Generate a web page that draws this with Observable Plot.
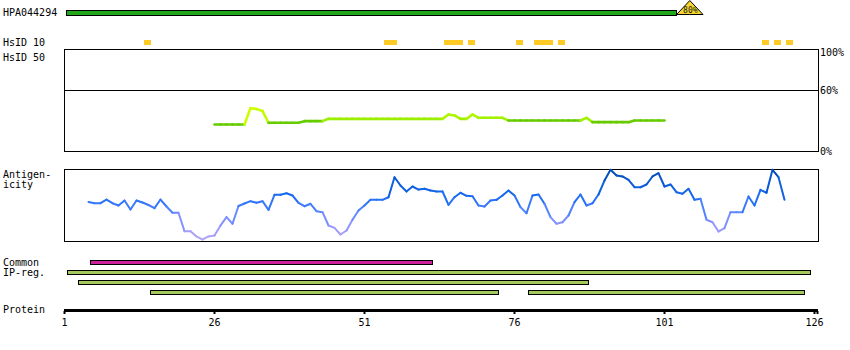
<!DOCTYPE html>
<html><head><meta charset="utf-8">
<script src="https://cdn.jsdelivr.net/npm/d3@7"></script>
<script src="https://cdn.jsdelivr.net/npm/@observablehq/plot@0.6"></script>
<style>
body{margin:0;background:#fff}
#chart{position:relative;width:850px;height:350px;background:#fff}
#chart svg{position:absolute;left:0;top:0;background:transparent;overflow:visible}
#chart svg rect, #chart svg line{shape-rendering:crispEdges}
</style></head><body><div id="chart"></div>
<script>
// ---------- data ----------
const residueCount = 126;
const proteinTicks = [1, 26, 51, 76, 101, 126];

const hpaLabel = "HPA044294";
const hpaSpan = [1.45, 103.1];
const hpaIdentityLabel = "80%";

const hsid10Ranges = [[15,15],[55,56],[65,67],[69,69],[77,77],[80,82],[84,84],[118,118],[120,120],[122,122]];

// similarity (%) for residues 26..101
const simStart = 26;
const simValues = [
  26.1,26.1,26.1,26.1,26.1,26.1,
  42.2,41.4,39.4,
  27.8,27.8,27.8,27.8,27.8,27.8,
  29.4,29.4,29.4,29.4,
  31.7,31.7,31.7,31.7,31.7,31.7,31.7,31.7,31.7,31.7,31.7,31.7,31.7,31.7,31.7,31.7,31.7,31.7,31.7,31.7,
  36.0,35.0,31.7,31.7,36.0,
  32.7,32.7,32.7,32.7,32.7,
  30.0,30.0,30.0,30.0,30.0,30.0,30.0,30.0,30.0,30.0,30.0,30.0,30.0,
  32.7,
  28.4,28.4,28.4,28.4,28.4,28.4,28.4,
  30.0,30.0,30.0,30.0,30.0,30.0
];
const simTickLabels = [{v:100, t:"100%"}, {v:60, t:"60%"}, {v:0, t:"0%"}];

// antigenicity for residues 5..121
const antStart = 5;
const antValues = [
  .535,.518,.518,.569,.518,.486,.556,.431,.556,.528,
  .493,.449,.569,.472,.385,.385,.129,.129,.056,.014,
  .056,.069,.208,.324,.232,.479,.514,.546,.524,.546,
  .426,.635,.635,.657,.625,.524,.476,.510,.407,.393,
  .208,.176,.083,.139,.288,.417,.486,.565,.565,.565,
  .601,.879,.764,.681,.750,.708,.718,.694,.681,.681,
  .496,.601,.663,.621,.615,.486,.472,.556,.565,.625,
  .694,.625,.463,.379,.625,.639,.510,.324,.232,.254,
  .347,.532,.639,.486,.518,.639,.833,.982,.903,.889,
  .843,.740,.740,.778,.889,.935,.750,.778,.671,.649,
  .718,.565,.579,.288,.254,.125,.171,.393,.393,.393,
  .611,.486,.704,.663,.982,.879,.565
];

const commonBars = [[5.42, 62.4]];
const ipBars = [[1.53, 125.4],[3.45, 88.4],[15.47, 73.45],[78.47, 124.45]];
const ipRows = ["r1","r2","r3","r3"];
const rowLabels = [{row:"r0", t:"Common"}, {row:"r1", t:"IP-reg."}];

// ---------- helpers ----------
const W = 850, H = 350;
const xDomain = [1, residueCount + 0.5];
const font = {fontFamily:"'DejaVu Sans Mono', monospace", fontSize:"10px", background:"transparent", overflow:"visible"};
function panel(top, bottom, opts) {
  return Plot.plot(Object.assign({
    width: W, height: H,
    marginLeft: 63.5, marginRight: 32.5,
    marginTop: top, marginBottom: H - bottom,
    x: {domain: xDomain, range: [64, 817], axis: null},
    style: font
  }, opts));
}
function segments(start, values, agg) {
  const s = [];
  for (let i = 0; i < values.length - 1; i++) {
    s.push({x1: start + i, y1: values[i], x2: start + i + 1, y2: values[i+1], v: agg(values[i], values[i+1])});
  }
  return s;
}
const labelOpts = {frameAnchor: "left", dx: -61, textAnchor: "start"};

const chart = document.getElementById("chart");

// HPA bar
chart.append(panel(10, 15, {
  marks: [
    Plot.rectX([hpaSpan], {x1: d => d[0], x2: d => d[1], fill: "#20a81a", stroke: "black", strokeWidth: 1}),
    Plot.text([hpaLabel], labelOpts)
  ]
}));
// identity triangle
const tri = [{x: hpaSpan[1], h: 0}, {x: hpaSpan[1] + 2.2, h: 1}, {x: hpaSpan[1] + 4.4, h: 0}];
chart.append(panel(0.5, 14.5, {
  y: {domain: [0, 1], range: [14.5, 0.5], axis: null},
  marks: [
    Plot.areaY(tri, {x: "x", y1: 0, y2: "h", fill: "#f4d62c", stroke: "black", strokeWidth: 1}),
    Plot.text([hpaIdentityLabel], {x: tri[1].x, y: 0.36, fontSize: 8, fill: "#222"})
  ]
}));
// HsID 10
chart.append(panel(40, 45, {
  marks: [
    Plot.rectX(hsid10Ranges, {x1: d => d[0] - 0.65, x2: d => d[1] + 0.5, fill: "#fdca26"}),
    Plot.text(["HsID 10"], labelOpts)
  ]
}));
// similarity panel
chart.append(panel(48.5, 150.5, {
  y: {domain: [0, 100], range: [150.5, 49], axis: null},
  color: {type: "linear", domain: [25, 30.5, 31, 42], range: ["#66cc00", "#66cc00", "#99ee00", "#ccff00"]},
  marks: [
    Plot.frame({stroke: "black", strokeWidth: 1}),
    Plot.ruleY([60], {stroke: "black", strokeWidth: 1}),
    Plot.link(segments(simStart, simValues, Math.max), {x1: "x1", y1: "y1", x2: "x2", y2: "y2", stroke: "v", strokeWidth: 2.6, strokeLinecap: "round"}),
    Plot.text(simTickLabels.filter(d => d.v === 100), {y: "v", text: "t", frameAnchor: "right", dx: 2, dy: 3, textAnchor: "start"}),
    Plot.text(simTickLabels.filter(d => d.v !== 100), {y: "v", text: "t", frameAnchor: "right", dx: 2, dy: 0.5, textAnchor: "start"}),
    Plot.text(["HsID 50"], {frameAnchor: "top-left", dx: -61, dy: 4.5, textAnchor: "start"})
  ]
}));
// antigenicity panel
chart.append(panel(168.5, 240.5, {
  y: {domain: [0, 1], range: [240, 168], axis: null},
  color: {type: "linear", domain: [0, 0.2, 0.4, 0.6, 0.8, 1], range: ["#b8aaf2", "#9696ff", "#5a86ff", "#1a6cf5", "#0a5ad8", "#0048a8"]},
  marks: [
    Plot.frame({stroke: "black", strokeWidth: 1}),
    Plot.link(segments(antStart, antValues, (a, b) => (a + b) / 2), {x1: "x1", y1: "y1", x2: "x2", y2: "y2", stroke: "v", strokeWidth: 2, strokeLinecap: "round"}),
    Plot.text(["Antigen-\nicity"], {frameAnchor: "top-left", dx: -61, dy: 1.5, textAnchor: "start", lineAnchor: "top", lineHeight: 1})
  ]
}));
// Common / IP-reg bars
const barRows = [
  ...commonBars.map(d => ({row: "r0", x1: d[0], x2: d[1], kind: "common"})),
  ...ipBars.map((d, i) => ({row: ipRows[i], x1: d[0], x2: d[1], kind: "ip"}))
];
chart.append(panel(258.5, 296.5, {
  y: {domain: ["r0", "r1", "r2", "r3"], type: "band", paddingInner: 0.6, paddingOuter: 0.2, round: false, axis: null},
  marks: [
    Plot.rectX(barRows, {x1: "x1", x2: "x2", y: "row", fill: d => d.kind === "common" ? "#cc2299" : "#a3c95c", stroke: "black", strokeWidth: 1}),
    Plot.text(rowLabels, {y: "row", text: "t", ...labelOpts})
  ]
}));
// protein axis
chart.append(panel(308, 311, {
  marks: [
    Plot.frame({fill: "black", stroke: null}),
    Plot.axisX(proteinTicks, {tickSize: 3, tickPadding: 4, strokeWidth: 2, label: null, fill: "black"}),
    Plot.axisX([xDomain[1]], {tickSize: 3, tickFormat: () => "", strokeWidth: 2, label: null}),
    Plot.text(["Protein"], labelOpts)
  ]
}));
</script></body></html>
